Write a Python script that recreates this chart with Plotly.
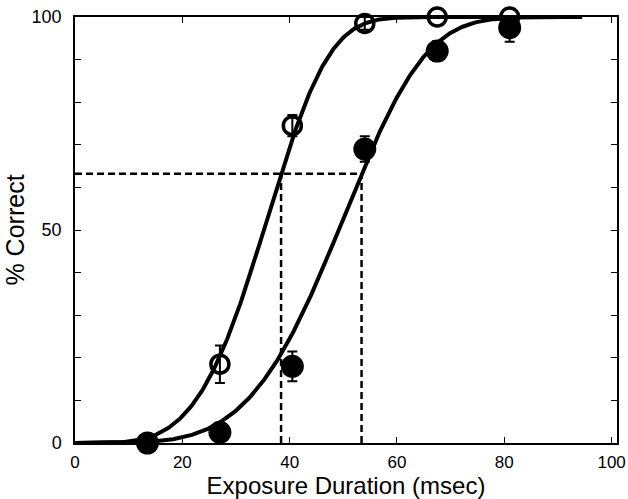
import numpy as np
import plotly.graph_objects as go

# ---- data ----
exposure_ms = [13.5, 27, 40.5, 54, 67.5, 81]
filled_pct = [0, 2.5, 18, 69, 92, 97.5]
filled_err = [0, 1, 3.5, 3, 2.3, 3.3]

open_x = [27, 40.5, 54, 67.5, 81]
open_pct = [18.5, 74.5, 98.5, 100, 100]
open_err = [4.4, 2.5, 1.5, 0, 0]

# Weibull psychometric fits (threshold at 63.2 %)
open_alpha, open_beta = 38.4, 4.2
filled_alpha, filled_beta = 53.4, 4.4
criterion = 63.2
fit_max_x = 94.5

x_ticks = [0, 20, 40, 60, 80, 100]
y_ticks = [0, 10, 20, 30, 40, 50, 60, 70, 80, 90, 100]
y_ticktext = ["0", "", "", "", "", "50", "", "", "", "", "100"]

FONT = "Liberation Sans, Arial, Helvetica, sans-serif"


def weibull(x, a, b):
    return 100 * (1 - np.exp(-(x / a) ** b))


xs = np.linspace(0, fit_max_x, 400)

fig = go.Figure()

# dashed threshold guides
dash_style = dict(color="black", width=2.5, dash="7px,4px")
fig.add_trace(go.Scatter(x=[0, filled_alpha], y=[criterion, criterion], mode="lines",
                         line=dash_style, hoverinfo="skip", showlegend=False))
fig.add_trace(go.Scatter(x=[open_alpha, open_alpha], y=[0, criterion], mode="lines",
                         line=dash_style, hoverinfo="skip", showlegend=False))
fig.add_trace(go.Scatter(x=[filled_alpha, filled_alpha], y=[0, criterion], mode="lines",
                         line=dash_style, hoverinfo="skip", showlegend=False))

# fitted curves
fig.add_trace(go.Scatter(x=xs, y=weibull(xs, open_alpha, open_beta), mode="lines",
                         line=dict(color="black", width=4), cliponaxis=False,
                         showlegend=False))
fig.add_trace(go.Scatter(x=xs, y=weibull(xs, filled_alpha, filled_beta), mode="lines",
                         line=dict(color="black", width=4), cliponaxis=False,
                         showlegend=False))

# data points
fig.add_trace(go.Scatter(
    x=open_x, y=open_pct, mode="markers", cliponaxis=False,
    error_y=dict(type="data", array=open_err, color="black", thickness=2, width=5),
    marker=dict(symbol="circle-open", size=18, color="black", line=dict(width=3.5, color="black")),
    showlegend=False))
fig.add_trace(go.Scatter(
    x=exposure_ms, y=filled_pct, mode="markers", cliponaxis=False,
    error_y=dict(type="data", array=filled_err, color="black", thickness=2, width=5),
    marker=dict(symbol="circle", size=23, color="black"),
    showlegend=False))

fig.update_layout(
    width=628, height=499,
    margin=dict(l=75, r=11, t=17, b=56),
    paper_bgcolor="white", plot_bgcolor="white",
    font=dict(family=FONT, color="black"),
)
fig.update_xaxes(
    range=[0, 101], tickvals=x_ticks, ticks="inside", ticklen=6, tickwidth=1.2,
    tickcolor="black", showline=True, linecolor="black", linewidth=1.5, mirror="ticks",
    showgrid=False, zeroline=False, tickfont=dict(size=17), ticklabelstandoff=3,
    automargin=False,
    title=dict(text="Exposure Duration (msec)", font=dict(size=24), standoff=6),
)
fig.update_yaxes(
    range=[0, 100], tickvals=y_ticks, ticktext=y_ticktext, ticks="inside", ticklen=6,
    tickwidth=1.2, tickcolor="black", showline=True, linecolor="black", linewidth=1.5,
    mirror="ticks", showgrid=False, zeroline=False, tickfont=dict(size=18),
    ticklabelstandoff=8, automargin=False,
    title=dict(text="% Correct", font=dict(size=25), standoff=0),
)

fig.write_html("out.html")
